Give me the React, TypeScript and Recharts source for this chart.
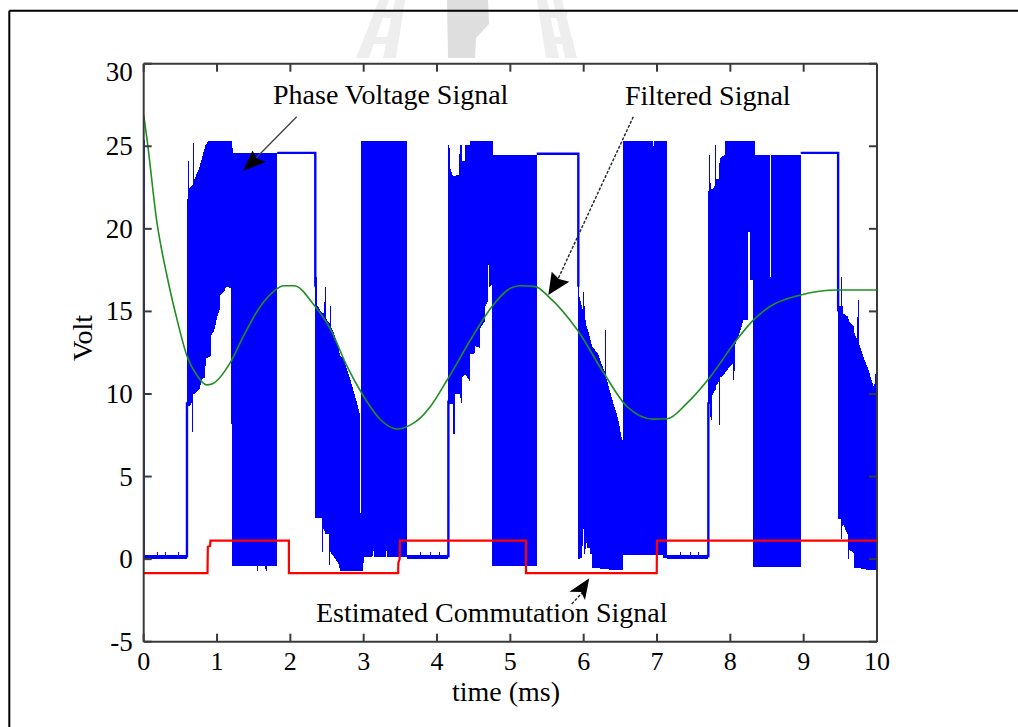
import React from "react";
import { ComposedChart, Area, Line, XAxis, YAxis, ReferenceLine } from "recharts";

const W = 1018;
const H = 727;
const MARGIN = { top: 63.7, right: 141, bottom: 84.3, left: 142.7 };
const PLOT_L = 143.7;
const PLOT_T = 63.7;
const PLOT_R = 877;
const PLOT_B = 641.7;
const AXIS = "#3a3a3a";
const SERIF = '"Liberation Serif", "Times New Roman", Times, serif';
const BLUE = "#0000ff";
const GREEN = "#1f8f1f";
const RED = "#ff0000";

// ---- axes ----
const timeTicks = [0, 1, 2, 3, 4, 5, 6, 7, 8, 9, 10];
const voltTicks = [-5, 0, 5, 10, 15, 20, 25, 30];
const timeDomain = [0, 10];
const voltDomain = [-5, 30];

// ---- phase voltage: low-state bands [t, low, high] ----
const lowStateA = [
  [0.0, 0.0, 0.25], [0.175, 0.0, 0.25], [0.177, 0.0, 0.42], [0.19, 0.0, 0.42], [0.192, 0.0, 0.25],
  [0.285, 0.0, 0.25], [0.287, 0.0, 0.42], [0.3, 0.0, 0.42], [0.302, 0.0, 0.25],
  [0.465, 0.0, 0.25], [0.467, 0.0, 0.42], [0.48, 0.0, 0.42], [0.482, 0.0, 0.25], [0.59, 0.0, 0.25],
];
const lowStateB = [
  [3.586, 0.0, 0.25], [3.77, 0.0, 0.25], [3.772, 0.0, 0.42], [3.785, 0.0, 0.42], [3.787, 0.0, 0.25],
  [3.9, 0.0, 0.25], [3.902, 0.0, 0.42], [3.915, 0.0, 0.42], [3.917, 0.0, 0.25],
  [4.02, 0.0, 0.25], [4.022, 0.0, 0.42], [4.035, 0.0, 0.42], [4.037, 0.0, 0.25], [4.155, 0.0, 0.25],
];
const lowStateC = [
  [7.14, 0.0, 0.28], [7.31, 0.0, 0.28], [7.312, 0.0, 0.45], [7.325, 0.0, 0.45], [7.327, 0.0, 0.28],
  [7.45, 0.0, 0.28], [7.452, 0.0, 0.45], [7.465, 0.0, 0.45], [7.467, 0.0, 0.28],
  [7.56, 0.0, 0.28], [7.562, 0.0, 0.45], [7.575, 0.0, 0.45], [7.577, 0.0, 0.28], [7.7, 0.0, 0.28],
];

// ---- phase voltage: PWM switching envelopes [t, low, high] ----
const pwmBlockA = [
  [0.59, 9.3, 21.8], [0.6, 9.3, 21.8], [0.601, 9.3, 24.1], [0.612, 9.3, 24.1], [0.614, 9.2, 22.4],
  [0.66, 9.5, 22.6], [0.662, 7.7, 22.6], [0.676, 7.7, 22.7], [0.678, 10.0, 25.2], [0.688, 10.0, 25.2],
  [0.69, 10.0, 23.0], [0.76, 10.3, 23.7], [0.8, 10.9, 24.4], [0.84, 11.0, 25.0], [0.845, 12.2, 25.1],
  [0.88, 12.2, 25.3], [0.92, 12.3, 25.3], [0.925, 13.6, 25.3], [0.96, 13.8, 25.3], [1.0, 14.6, 25.3],
  [1.04, 15.2, 25.3], [1.045, 16.0, 25.3], [1.1, 16.2, 25.3], [1.12, 16.5, 25.3], [1.195, 16.4, 25.3],
  [1.2, -0.4, 25.3], [1.21, -0.4, 25.3], [1.212, -0.4, 24.6], [1.545, -0.4, 24.6], [1.547, -0.7, 24.6],
  [1.56, -0.7, 24.6], [1.562, -0.4, 24.6], [1.66, -0.4, 24.6], [1.662, -0.7, 24.6], [1.675, -0.7, 24.6],
  [1.677, -0.4, 24.6], [1.82, -0.4, 24.6],
];
const pwmBlockB = [
  [2.34, 2.5, 17.1], [2.36, 2.5, 17.1], [2.362, 2.5, 15.4], [2.43, 2.5, 14.9], [2.432, 0.45, 14.9],
  [2.44, 0.45, 14.9], [2.442, 1.9, 14.9], [2.465, 1.7, 14.9], [2.467, 1.7, 16.5], [2.48, 1.5, 16.5],
  [2.482, 1.5, 14.6], [2.53, 1.5, 14.3], [2.532, -0.35, 14.3], [2.54, -0.35, 14.3], [2.542, 0.5, 15.3],
  [2.555, 0.4, 15.3], [2.557, 0.3, 14.0], [2.585, 0.2, 13.8], [2.63, -0.1, 13.2], [2.66, -0.3, 12.7],
  [2.68, -0.7, 12.3], [2.72, -0.7, 12.2], [2.81, -0.7, 11.0], [2.9, -0.7, 9.6], [2.945, -0.7, 8.8],
  [2.947, -0.7, 2.8], [2.968, -0.7, 2.8], [2.97, -0.7, 25.3], [2.995, -0.7, 25.3], [3.0, 0.15, 25.3],
  [3.12, 0.15, 25.3], [3.122, 0.5, 25.3], [3.135, 0.5, 25.3], [3.137, 0.15, 25.3],
  [3.3, 0.15, 25.3], [3.302, 0.5, 25.3], [3.315, 0.5, 25.3], [3.317, 0.15, 25.3], [3.586, 0.15, 25.3],
];
const pwmBlockC = [
  [4.155, 9.6, 25.1], [4.17, 9.4, 25.1], [4.172, 9.4, 23.8], [4.218, 9.4, 23.2], [4.22, 7.6, 23.2],
  [4.24, 7.6, 23.2], [4.245, 10.0, 23.2], [4.3, 10.0, 23.3], [4.31, 10.0, 25.1], [4.335, 9.4, 25.1],
  [4.34, 11.0, 24.1], [4.38, 11.2, 24.1], [4.385, 11.2, 25.1], [4.445, 10.8, 25.1], [4.45, 12.4, 25.3],
  [4.51, 12.4, 25.3], [4.52, 12.9, 25.3], [4.585, 12.8, 25.3], [4.59, 14.0, 25.3], [4.65, 14.4, 25.3],
  [4.655, 15.3, 25.3], [4.695, 15.6, 25.3], [4.698, 17.8, 25.3], [4.712, 17.8, 25.3], [4.715, 16.5, 25.3],
  [4.745, 16.6, 25.3], [4.748, -0.42, 25.3], [4.76, -0.42, 25.3], [4.762, -0.42, 24.5], [5.36, -0.42, 24.5],
];
const pwmBlockD = [
  [5.927, 0.0, 16.9], [5.937, 0.0, 16.9], [5.94, 0.0, 15.9], [5.98, 0.1, 15.2], [5.99, 1.8, 15.0],
  [6.0, 1.8, 16.5], [6.01, 0.3, 16.5], [6.012, 0.3, 14.8], [6.04, 1.0, 14.1], [6.05, 0.7, 14.0],
  [6.08, 0.7, 13.5], [6.085, 0.3, 13.4], [6.11, 0.3, 13.0], [6.115, -0.55, 12.9], [6.2, -0.55, 12.4],
  [6.27, -0.6, 11.5], [6.293, -0.6, 11.3], [6.295, -0.6, 13.9], [6.305, -0.6, 13.9], [6.307, -0.6, 11.0],
  [6.38, -0.65, 9.8], [6.47, -0.65, 8.5], [6.52, -0.65, 7.3], [6.535, -0.65, 7.2], [6.54, 0.25, 25.3],
  [6.945, 0.25, 25.3], [6.95, 0.25, 24.9], [6.96, 0.25, 25.3], [7.08, 0.25, 25.3], [7.085, 0.05, 25.3],
  [7.14, 0.05, 25.3],
];
const pwmBlockE = [
  [7.7, 9.4, 22.3], [7.712, 9.4, 22.3], [7.714, 9.4, 24.5], [7.728, 9.4, 24.5], [7.73, 8.4, 22.4],
  [7.755, 8.4, 22.4], [7.757, 10.0, 22.4], [7.79, 10.2, 22.6], [7.795, 10.2, 25.1], [7.805, 10.4, 25.1],
  [7.807, 10.5, 23.0], [7.85, 10.8, 23.0], [7.852, 8.1, 24.0], [7.862, 8.1, 24.3], [7.865, 11.0, 24.3],
  [7.925, 11.2, 24.5], [7.93, 11.3, 25.3], [8.04, 11.9, 25.3], [8.045, 10.4, 25.3], [8.055, 10.4, 25.3],
  [8.06, 12.9, 25.3], [8.15, 14.0, 25.3], [8.18, 14.5, 25.3], [8.24, 14.5, 25.3], [8.242, 19.8, 25.3],
  [8.262, 19.8, 25.3], [8.264, 16.9, 25.3], [8.305, 16.9, 25.3], [8.31, -0.5, 25.3], [8.34, -0.5, 25.3],
  [8.342, -0.5, 24.5], [8.535, -0.5, 24.5], [8.537, -0.5, 17.1], [8.557, -0.5, 17.1], [8.56, -0.5, 24.5],
  [8.96, -0.5, 24.5],
];
const pwmBlockF = [
  [9.47, 2.4, 15.3], [9.515, 2.4, 15.3], [9.517, 0.0, 18.3], [9.527, 0.0, 18.3], [9.53, 2.2, 14.9],
  [9.6, 1.5, 14.7], [9.605, 0.0, 14.6], [9.615, 0.0, 14.5], [9.62, 0.6, 14.4], [9.68, 0.35, 14.1],
  [9.685, -0.5, 13.8], [9.72, -0.55, 13.3], [9.745, -0.55, 15.7], [9.755, -0.55, 15.7], [9.76, -0.55, 13.0],
  [9.81, -0.6, 12.3], [9.88, -0.65, 11.5], [9.95, -0.65, 10.5], [9.965, -0.65, 10.4], [9.97, -0.65, 11.2],
  [10.0, -0.65, 11.2],
];

// ---- phase voltage: single-trace parts [t, v] (null breaks the trace) ----
const phaseTrace = [
  [0, 25.4], [0, 0.1], [0, null],
  [0.59, 0.1], [0.59, 9.5], [0.59, null],
  [1.82, 24.6], [2.34, 24.6], [2.34, 16.5], [2.34, null],
  [4.155, 0.1], [4.155, 9.6], [4.155, null],
  [5.36, 24.55], [5.927, 24.55], [5.927, 16.5], [5.927, null],
  [7.7, 0.1], [7.7, 9.5], [7.7, null],
  [8.96, 24.6], [9.47, 24.6], [9.47, 15.0],
];

// ---- filtered signal [t, v] ----
const filteredSignal = [
  [0, 26.9], [0.046, 25.4], [0.18, 20.4], [0.32, 17.1], [0.455, 14.5], [0.59, 12.3], [0.73, 11.1],
  [0.86, 10.55], [0.93, 10.6], [1.18, 11.9], [1.36, 13.5], [1.59, 15.3], [1.77, 16.2], [1.91, 16.55],
  [2.05, 16.55], [2.32, 15.4], [2.55, 13.9], [2.77, 11.7], [3.0, 9.85], [3.23, 8.44], [3.46, 7.88],
  [3.64, 8.13], [3.77, 8.54], [3.91, 9.24], [4.14, 10.86], [4.46, 13.3], [4.75, 15.3], [5.0, 16.4],
  [5.14, 16.55], [5.34, 16.5], [5.52, 15.9], [5.91, 13.9], [6.27, 11.3], [6.59, 9.24], [6.95, 8.48],
  [7.14, 8.5], [7.41, 9.45], [7.73, 11.06], [8.09, 13.3], [8.32, 14.5], [8.54, 15.3], [8.96, 16.0],
  [9.46, 16.3], [10.0, 16.3],
];

// ---- estimated commutation signal [t, v] ----
const commutationSignal = [
  [0, -0.85], [0.87, -0.85], [0.875, 0.75], [0.905, 0.8], [0.91, 1.12], [1.98, 1.12], [1.98, -0.85],
  [3.47, -0.85], [3.472, -0.25], [3.49, 0.0], [3.495, 1.12], [5.213, 1.12], [5.213, -0.85],
  [6.996, -0.85], [7.0, 1.12], [10.0, 1.12],
];

const blueBands = [lowStateA, pwmBlockA, pwmBlockB, lowStateB, pwmBlockC, pwmBlockD, lowStateC, pwmBlockE, pwmBlockF];

const toBand = (rows: number[][]) => rows.map(([t, lo, hi]) => ({ t, r: [lo, hi] }));
const toPts = (rows: (number | null)[][]) => rows.map(([t, v]) => ({ t, v }));

const XTick = (props: any) => {
  const { x, payload } = props;
  return (
    <g>
      <line x1={x} y1={PLOT_B} x2={x} y2={PLOT_B - 8} stroke={AXIS} strokeWidth={2} />
      <line x1={x} y1={PLOT_T} x2={x} y2={PLOT_T + 8} stroke={AXIS} strokeWidth={2} />
      <text x={x} y={PLOT_B + 28.5} textAnchor="middle" fontFamily={SERIF} fontSize={26} fill="#000">
        {payload.value}
      </text>
    </g>
  );
};

const YTick = (props: any) => {
  const { y, payload } = props;
  const v = payload.value;
  const dy = v === 30 ? 8 : 0;
  return (
    <g>
      <line x1={PLOT_L} y1={y} x2={PLOT_L + 8} y2={y} stroke={AXIS} strokeWidth={2} />
      <line x1={PLOT_R} y1={y} x2={PLOT_R - 8} y2={y} stroke={AXIS} strokeWidth={2} />
      <text x={PLOT_L - 11} y={y + dy} textAnchor="end" dominantBaseline="central" fontFamily={SERIF} fontSize={27} fill="#000">
        {v}
      </text>
    </g>
  );
};

const Watermark = () => (
  <g>
    {/* left ladder */}
    <polygon points="356,58 369,58 389,0 379,0" fill="#eeeeee" />
    <polygon points="383,58 396,58 405,0 395,0" fill="#eeeeee" />
    <polygon points="365,44 391,44 393,37 368,37" fill="#eeeeee" />
    <polygon points="373,18 399,18 401,11 376,11" fill="#eeeeee" />
    {/* figure */}
    <polygon points="448,58 475,58 476,38 489,24 488,0 447,0" fill="#dedede" />
    {/* right ladder */}
    <polygon points="537,0 547,0 559,58 546,58" fill="#eeeeee" />
    <polygon points="553,0 562,0 577,58 565,58" fill="#eeeeee" />
    <polygon points="542,18 566,18 568,11 540,11" fill="#eeeeee" />
    <polygon points="548,44 574,44 572,37 546,37" fill="#eeeeee" />
  </g>
);

export default function App() {
  return (
    <div style={{ position: "absolute", left: 0, top: 0, width: W, height: H, background: "#fff", overflow: "hidden" }}>
      <svg width={W} height={H} style={{ position: "absolute", left: 0, top: 0 }}>
        <Watermark />
        <line x1={9.3} y1={10.8} x2={W + 5} y2={10.8} stroke="#000" strokeWidth={2} />
        <line x1={9.3} y1={10.8} x2={9.3} y2={H + 5} stroke="#000" strokeWidth={2} />
      </svg>
      <div style={{ position: "absolute", left: 0, top: 0 }}>
        <ComposedChart width={W} height={H} margin={MARGIN}>
          <XAxis
            dataKey="t"
            type="number"
            domain={timeDomain}
            ticks={timeTicks}
            interval={0}
            height={1}
            tickSize={0}
            tickMargin={0}
            tickLine={false}
            axisLine={{ stroke: AXIS, strokeWidth: 2 }}
            tick={<XTick />}
            allowDataOverflow
          />
          <YAxis
            type="number"
            domain={voltDomain}
            ticks={voltTicks}
            interval={0}
            width={1}
            tickSize={0}
            tickMargin={0}
            tickLine={false}
            axisLine={{ stroke: AXIS, strokeWidth: 2 }}
            tick={<YTick />}
            allowDataOverflow
          />
          <ReferenceLine y={30} stroke={AXIS} strokeWidth={2} ifOverflow="visible" />
          <ReferenceLine x={10} stroke={AXIS} strokeWidth={2} ifOverflow="visible" />
          {blueBands.map((rows, i) => (
            <Area
              key={"band" + i}
              data={toBand(rows)}
              dataKey="r"
              type="linear"
              stroke="none"
              fill={BLUE}
              fillOpacity={1}
              shapeRendering="crispEdges"
              dot={false}
              activeDot={false}
              isAnimationActive={false}
            />
          ))}
          <Line
            data={toPts(phaseTrace)}
            dataKey="v"
            type="linear"
            stroke={BLUE}
            strokeWidth={2.4}
            dot={false}
            activeDot={false}
            connectNulls={false}
            isAnimationActive={false}
          />
          <Line
            data={toPts(filteredSignal)}
            dataKey="v"
            type="monotone"
            stroke={GREEN}
            strokeWidth={1.6}
            dot={false}
            activeDot={false}
            isAnimationActive={false}
          />
          <Line
            data={toPts(commutationSignal)}
            dataKey="v"
            type="linear"
            stroke={RED}
            strokeWidth={2.2}
            dot={false}
            activeDot={false}
            isAnimationActive={false}
          />
        </ComposedChart>
      </div>
      <svg width={W} height={H} style={{ position: "absolute", left: 0, top: 0, pointerEvents: "none" }}>
        <text x={273} y={103.5} fontFamily={SERIF} fontSize={28} fill="#000">Phase Voltage Signal</text>
        <text x={625} y={105} fontFamily={SERIF} fontSize={28} fill="#000">Filtered Signal</text>
        <text x={316} y={621.5} fontFamily={SERIF} fontSize={28} fill="#000">Estimated Commutation Signal</text>
        <text x={506} y={701} textAnchor="middle" fontFamily={SERIF} fontSize={28} fill="#000">time (ms)</text>
        <text x={82} y={338} textAnchor="middle" dominantBaseline="central" transform="rotate(-90 82 338)" fontFamily={SERIF} fontSize={28} fill="#000">Volt</text>
        {/* phase arrow */}
        <line x1={296.7} y1={116.7} x2={256} y2={158} stroke="#444" strokeWidth={1.4} />
        <polygon points="243.3,170.7 252.5,150.5 256.5,158.5 266,161.7" fill="#000" />
        {/* filtered arrow */}
        <line x1={633.3} y1={116.7} x2={558} y2={279} stroke="#222" strokeWidth={1.4} strokeDasharray="3 1.6" />
        <polygon points="548.3,295 551.7,271.7 559,279 569.3,281.7" fill="#000" />
        {/* commutation arrow */}
        <line x1={571.7} y1={604} x2={581.7} y2={593.3} stroke="#222" strokeWidth={1.4} strokeDasharray="3 1.6" />
        <polygon points="589.3,578.3 569.3,591.7 581,592 585,600" fill="#000" />
      </svg>
    </div>
  );
}
